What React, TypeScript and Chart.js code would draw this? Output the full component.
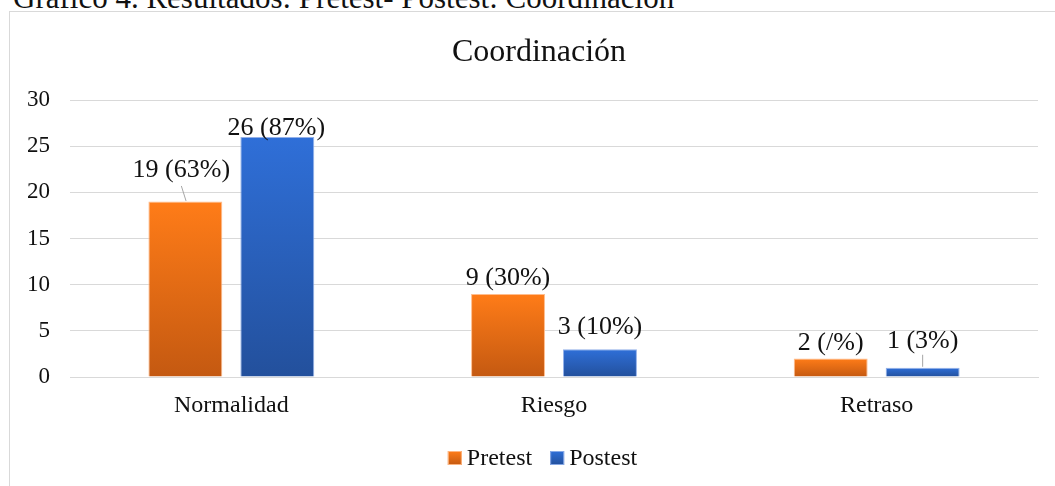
import React, { useEffect, useRef } from "react";
import { Chart, registerables } from "chart.js";

Chart.register(...registerables);

const categories = ["Normalidad", "Riesgo", "Retraso"];
const seriesNames = ["Pretest", "Postest"];
const pretestValues = [19, 9, 2];
const postestValues = [26, 3, 1];
const pretestPercents = ["63%", "30%", "/%"];
const postestPercents = ["87%", "10%", "3%"];
const yMin = 0;
const yMax = 30;
const yStep = 5;
const chartTitle = "Coordinación";
const headerText = "Gráfico 4. Resultados: Pretest- Postest: Coordinación";

const FONT = "'Liberation Serif', 'Times New Roman', serif";

const gradientStops = [
  { top: "#FF7C18", bottom: "#C45911", border: "rgba(255,185,135,0.95)", legend: "#F07016" },
  { top: "#2F6FD8", bottom: "#23509C", border: "rgba(140,172,232,0.95)", legend: "#2A60C0" },
];

// label placement relative to bar top centre (style only)
const labelPlacement = [
  [
    { dx: -4, dy: -24.6, leader: [-4, -15.6, 0.7, -0.6] },
    { dx: 0, dy: -9 },
    { dx: 0, dy: -8.5 },
  ],
  [
    { dx: -1, dy: -2 },
    { dx: 0, dy: -15 },
    { dx: 0, dy: -20, leader: [0, -13, 0, -1] },
  ],
];

const percents = [pretestPercents, postestPercents];

const decorPlugin = {
  id: "decor",
  afterDatasetsDraw(chart: any) {
    const ctx = chart.ctx;
    ctx.save();
    // data labels
    chart.data.datasets.forEach((ds: any, di: number) => {
      const meta = chart.getDatasetMeta(di);
      meta.data.forEach((bar: any, i: number) => {
        const p = labelPlacement[di][i];
        const text = `${ds.data[i]} (${percents[di][i]})`;
        if (p.leader) {
          ctx.strokeStyle = "#A6A6A6";
          ctx.lineWidth = 1;
          ctx.beginPath();
          ctx.moveTo(bar.x + p.leader[0], bar.y + p.leader[1]);
          ctx.lineTo(bar.x + p.leader[2], bar.y + p.leader[3]);
          ctx.stroke();
        }
        ctx.fillStyle = "#111";
        ctx.font = `26px ${FONT}`;
        ctx.textAlign = "center";
        ctx.textBaseline = "alphabetic";
        ctx.fillText(text, bar.x + p.dx, bar.y + p.dy);
      });
    });
    // title
    ctx.fillStyle = "#111";
    ctx.font = `32px ${FONT}`;
    ctx.textAlign = "center";
    ctx.textBaseline = "alphabetic";
    ctx.fillText(chartTitle, 539, 61);
    // legend
    ctx.font = `24px ${FONT}`;
    const box = 14;
    const gap = 5;
    const itemGap = 18;
    const widths = chart.data.datasets.map((d: any) => ctx.measureText(d.label).width);
    const total = widths.reduce((a: number, w: number) => a + box + gap + w, 0) + itemGap * (widths.length - 1);
    let x = 542.5 - total / 2;
    ctx.textAlign = "left";
    chart.data.datasets.forEach((d: any, di: number) => {
      const g = ctx.createLinearGradient(0, 451, 0, 465);
      g.addColorStop(0, gradientStops[di].top);
      g.addColorStop(1, gradientStops[di].bottom);
      ctx.fillStyle = g;
      ctx.fillRect(x, 451, box, box);
      ctx.strokeStyle = gradientStops[di].border;
      ctx.lineWidth = 1;
      ctx.strokeRect(x + 0.5, 451.5, box - 1, box - 1);
      ctx.fillStyle = "#111";
      ctx.fillText(d.label, x + box + gap, 465);
      x += box + gap + widths[di] + itemGap;
    });
    ctx.restore();
  },
};

function barFill(di: number) {
  return (c: any) => {
    const chart = c.chart;
    const s = gradientStops[di];
    if (!chart.chartArea || !c.parsed || !chart.scales.y) return s.legend;
    const y = chart.scales.y;
    const top = y.getPixelForValue(c.parsed.y);
    const bottom = y.getPixelForValue(0);
    if (!isFinite(top) || !isFinite(bottom) || top === bottom) return s.legend;
    const g = chart.ctx.createLinearGradient(0, top, 0, bottom);
    g.addColorStop(0, s.top);
    g.addColorStop(1, s.bottom);
    return g;
  };
}

export default function App() {
  const ref = useRef<HTMLCanvasElement>(null);
  useEffect(() => {
    if (!ref.current) return;
    const chart = new Chart(ref.current, {
      type: "bar",
      data: {
        labels: categories,
        datasets: [
          {
            label: seriesNames[0],
            data: pretestValues,
            backgroundColor: barFill(0),
            borderColor: gradientStops[0].border,
            borderWidth: 1,
            categoryPercentage: 0.57,
            barPercentage: 0.804,
          },
          {
            label: seriesNames[1],
            data: postestValues,
            backgroundColor: barFill(1),
            borderColor: gradientStops[1].border,
            borderWidth: 1,
            categoryPercentage: 0.57,
            barPercentage: 0.804,
          },
        ],
      },
      options: {
        responsive: false,
        animation: false,
        devicePixelRatio: 1,
        layout: { padding: { left: 10, top: 100, right: 17, bottom: 59 } },
        plugins: {
          legend: { display: false },
          title: { display: false },
          tooltip: { enabled: false },
        },
        scales: {
          x: {
            grid: { display: false, drawTicks: false },
            border: { display: true, color: "#D9D9D9", width: 1 },
            ticks: { color: "#111", font: { family: FONT, size: 24 }, padding: 14 },
            afterFit: (s: any) => { s.height = 50; },
          },
          y: {
            min: yMin,
            max: yMax,
            grid: { color: "#D9D9D9", lineWidth: 1, drawTicks: false },
            border: { display: false },
            ticks: { stepSize: yStep, color: "#111", font: { family: FONT, size: 23 }, padding: 20 },
            afterFit: (s: any) => { s.width = 60; },
          },
        },
      },
      plugins: [decorPlugin],
    });
    return () => chart.destroy();
  }, []);

  return (
    <div style={{ position: "fixed", left: 0, top: 0, width: 1055, height: 486, overflow: "hidden", background: "#fff" }}>
      <div
        style={{
          position: "absolute",
          left: 13,
          top: -18,
          fontFamily: FONT,
          fontSize: 31,
          lineHeight: "31px",
          whiteSpace: "nowrap",
          color: "#111",
        }}
      >
        {headerText}
      </div>
      <div
        style={{
          position: "absolute",
          left: 9,
          top: 11,
          width: 1100,
          height: 600,
          border: "1px solid #D9D9D9",
        }}
      />
      <canvas ref={ref} width={1055} height={486} style={{ position: "absolute", left: 0, top: 0, display: "block" }} />
    </div>
  );
}
